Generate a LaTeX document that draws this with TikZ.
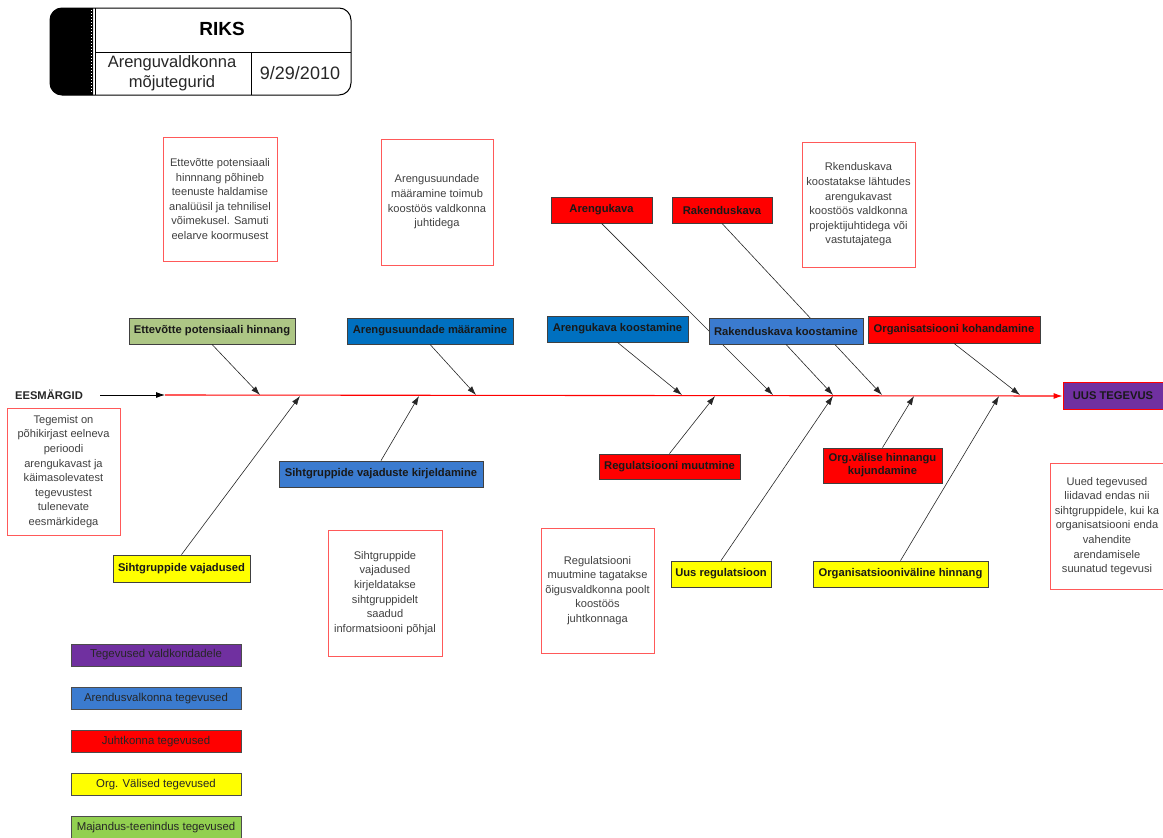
\documentclass[tikz,border=0pt]{standalone}
\usepackage{fontspec}
\setmainfont{Liberation Sans}
\usetikzlibrary{arrows.meta}

\definecolor{juhtred}{HTML}{FF0000}
\definecolor{orgyellow}{HTML}{FFFF00}
\definecolor{valdpurple}{HTML}{7030A0}
\definecolor{arendblue}{HTML}{0070C0}
\definecolor{arendlight}{HTML}{3B7BCF}
\definecolor{majgreen}{HTML}{92D050}
\definecolor{ettegreen}{HTML}{ADC685}
\definecolor{notegray}{HTML}{404040}

\begin{document}
\begin{tikzpicture}[x=1pt,y=-1pt,
    cause/.style={draw=black!75,line width=0.8pt,inner sep=0pt,align=center,
        font=\fontsize{11.2}{13}\selectfont\bfseries,text=black!90},
    note/.style={draw=red!65,line width=1pt,fill=white,inner sep=0pt,align=center,
        minimum width=113pt,minimum height=125pt,text=notegray,
        font=\fontsize{11.1}{14.6}\selectfont},
    legbox/.style={draw=black!70,line width=0.8pt,inner sep=0pt,
        minimum width=170pt,minimum height=22pt,text=black!85,
        font=\fontsize{11.4}{13}\selectfont},
    feed/.style={-{Latex[length=9pt,width=6pt]},black!85,line width=0.6pt}]
    \useasboundingbox (0,0) rectangle (1163,838);

    % --- Title block ---
    \begin{scope}
        \clip (40,0) rectangle (93,100);
        \fill[black,rounded corners=12pt] (50,8) rectangle (351,95);
    \end{scope}
    \draw[white,dotted,line width=1pt] (91,10) -- (91,93);
    \draw[line width=1pt,rounded corners=12pt] (50,8) rectangle (351,95);
    \draw[line width=0.8pt] (95,8) -- (95,95);
    \draw[line width=0.8pt] (95,52) -- (351,52);
    \draw[line width=0.8pt] (251,52) -- (251,95);
    \node[font=\fontsize{19}{22}\selectfont\bfseries] (riks) at (222,29) {RIKS};
    \node[align=center,font=\fontsize{16.5}{20}\selectfont,text=black!85] (tdesc) at (172,73) {Arenguvaldkonna\\mõjutegurid};
    \node[font=\fontsize{18}{20}\selectfont,text=black!85] (tdate) at (300,73) {9/29/2010};

    % --- Spine ---
    \node[font=\fontsize{11.2}{13}\selectfont\bfseries,text=black!85] (eesm) at (49,395) {EESMÄRGID};
    \node[cause,draw=red,fill=valdpurple,minimum width=100pt,minimum height=27pt] (uus) at (1113,396) {UUS TEGEVUS};
    \coordinate (sp0) at (100,395);
    \coordinate (sp1) at (165,395);
    \draw[-{Latex[length=9pt,width=6pt]},line width=0.8pt] (sp0) -- (sp1);
    \draw[-{Latex[length=9pt,width=6pt]},red,line width=1.1pt] (sp1) -- (uus.west);

    % points on the spine
    \coordinate (s-ettev) at (260,395);
    \coordinate (s-suund) at (476,395);
    \coordinate (s-akoost) at (682,395);
    \coordinate (s-akava) at (773,395);
    \coordinate (s-rkoost) at (833,395);
    \coordinate (s-rkava) at (882,395);
    \coordinate (s-orgk) at (1020,395);
    \coordinate (s-sihtv) at (300,396);
    \coordinate (s-sihtk) at (419,396);
    \coordinate (s-regm) at (715,396);
    \coordinate (s-uusreg) at (833,396);
    \coordinate (s-orgvh) at (914,396);
    \coordinate (s-orgv) at (999,396);

    % --- Upper causes ---
    \node[cause,fill=juhtred,minimum width=101pt,minimum height=26pt] (akava) at (601.5,210) {Arengukava};
    \node[cause,fill=juhtred,minimum width=100pt,minimum height=26pt] (rkava) at (722,210) {Rakenduskava};
    \draw[feed] (akava.south) -- (s-akava); % runs behind the box below
    \draw[feed] (rkava.south) -- (s-rkava);

    \node[cause,fill=ettegreen,minimum width=166pt,minimum height=26pt] (ettev) at (212,331) {Ettevõtte potensiaali hinnang};
    \node[cause,fill=arendblue,minimum width=166pt,minimum height=26pt] (suund) at (430,331) {Arengusuundade määramine};
    \node[cause,fill=arendblue,minimum width=141pt,minimum height=26pt] (akoost) at (617.5,329) {Arengukava koostamine};
    \node[cause,fill=arendlight,minimum width=154pt,minimum height=26pt] (rkoost) at (786,331) {Rakenduskava koostamine};
    \node[cause,fill=juhtred,minimum width=172pt,minimum height=27pt] (orgk) at (954,329.5) {Organisatsiooni kohandamine};
    \draw[feed] (ettev.south) -- (s-ettev);
    \draw[feed] (suund.south) -- (s-suund);
    \draw[feed] (akoost.south) -- (s-akoost);
    \draw[feed] (rkoost.south) -- (s-rkoost);
    \draw[feed] (orgk.south) -- (s-orgk);

    % --- Lower causes ---
    \node[cause,fill=arendlight,minimum width=204pt,minimum height=26pt] (sihtk) at (381,474) {Sihtgruppide vajaduste kirjeldamine};
    \node[cause,fill=orgyellow,minimum width=137pt,minimum height=27pt] (sihtv) at (181.5,568.5) {Sihtgruppide vajadused};
    \node[cause,fill=juhtred,minimum width=141pt,minimum height=25pt] (regm) at (669.5,466.5) {Regulatsiooni muutmine};
    \node[cause,fill=orgyellow,minimum width=100pt,minimum height=26pt] (uusreg) at (721,574) {Uus regulatsioon};
    \node[cause,fill=juhtred,minimum width=119pt,minimum height=35pt] (orgvh) at (882.5,465.5) {Org.välise hinnangu\\kujundamine};
    \node[cause,fill=orgyellow,minimum width=175pt,minimum height=26pt] (orgv) at (900.5,574) {Organisatsiooniväline hinnang};
    \draw[feed] (sihtk.north) -- (s-sihtk);
    \draw[feed] (sihtv.north) -- (s-sihtv);
    \draw[feed] (regm.north) -- (s-regm);
    \draw[feed] (uusreg.north) -- (s-uusreg);
    \draw[feed] (orgvh.north) -- (s-orgvh);
    \draw[feed] (orgv.north) -- (s-orgv);

    % --- Notes ---
    \node[note,minimum width=114pt,minimum height=124pt] (n-ettev) at (220,199) {Ettevõtte potensiaali\\hinnnang põhineb\\teenuste haldamise\\analüüsil ja tehnilisel\\võimekusel. Samuti\\eelarve koormusest};
    \node[note,minimum width=112pt,minimum height=126pt] (n-suund) at (437,202) {Arengusuundade\\määramine toimub\\koostöös valdkonna\\juhtidega};
    \node[note] (n-rkava) at (858.5,204.5) {Rkenduskava\\koostatakse lähtudes\\arengukavast\\koostöös valdkonna\\projektijuhtidega või\\vastutajatega};
    \node[note,minimum height=127pt] (n-eesm) at (63.5,471.5) {Tegemist on\\põhikirjast eelneva\\perioodi\\arengukavast ja\\käimasolevatest\\tegevustest\\tulenevate\\eesmärkidega};
    \node[note,minimum width=114pt,minimum height=126pt] (n-sihtv) at (385,593) {Sihtgruppide\\vajadused\\kirjeldatakse\\sihtgruppidelt\\saadud\\informatsiooni põhjal};
    \node[note] (n-regm) at (597.5,590.5) {Regulatsiooni\\muutmine tagatakse\\õigusvaldkonna poolt\\koostöös\\juhtkonnaga};
    \node[note,minimum height=126pt] (n-uued) at (1107,526) {Uued tegevused\\liidavad endas nii\\sihtgruppidele, kui ka\\organisatsiooni enda\\vahendite\\arendamisele\\suunatud tegevusi};

    % --- Legend ---
    \foreach \i / \col / \txt in {0/valdpurple/Tegevused valdkondadele,
                                  1/arendlight/Arendusvalkonna tegevused,
                                  2/juhtred/Juhtkonna tegevused,
                                  3/orgyellow/Org. Välised tegevused,
                                  4/majgreen/Majandus-teenindus tegevused}{
        \pgfmathsetmacro{\ymid}{655+\i*43.2}
        \node[legbox,fill=\col] (leg\i) at (156,\ymid) {\txt};
    }
\end{tikzpicture}
\end{document}
